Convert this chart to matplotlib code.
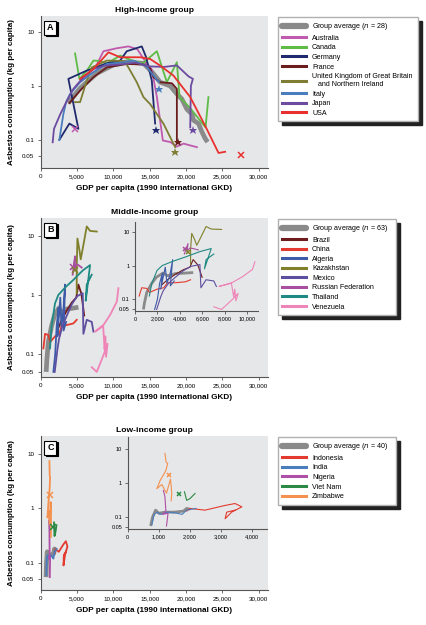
import matplotlib as mpl
import matplotlib.pyplot as plt
from matplotlib.lines import Line2D

mpl.use('Agg')

plt.rcParams['font.family'] = ['Liberation Sans', 'DejaVu Sans']

# ---------------- data (GDP per capita, kg per capita) ----------------
# High-income group
hi_avg_x = [3800, 5400, 7700, 10000, 11900, 14200, 15500, 16450, 17830, 18750, 19440, 20130, 20820, 21050, 21740, 22200, 22660, 22980]
hi_avg_y = [0.48, 0.9, 1.7, 2.45, 2.8, 2.6, 1.7, 1.17, 1.0, 0.71, 0.57, 0.37, 0.30, 0.23, 0.20, 0.14, 0.105, 0.091]
australia_x = [5500, 6500, 7600, 8640, 10500, 12080, 13300, 14300, 15300, 16000, 16820, 17830, 18750, 19660, 21510]
australia_y = [1.2, 1.6, 2.3, 4.4, 5.0, 5.4, 4.8, 3.0, 2.0, 0.62, 0.097, 0.091, 0.075, 0.085, 0.073]
canada_x = [4730, 5330, 6340, 7260, 8200, 9100, 10940, 12500, 14000, 16000, 17370, 18750, 19120, 20500, 22700, 23100]
canada_y = [4.0, 1.35, 1.9, 2.95, 2.9, 2.6, 3.65, 3.0, 2.6, 4.4, 1.17, 2.75, 0.62, 0.4, 0.17, 0.62]
germany_x = [2570, 3950, 5190, 3810, 6340, 9100, 10940, 11850, 13920, 14520, 15300, 15760]
germany_y = [0.1, 0.2, 0.16, 1.35, 1.92, 2.63, 2.95, 4.4, 5.4, 3.4, 1.25, 0.2]
france_x = [3950, 5420, 7260, 9100, 11850, 14150, 15100, 15530, 16450, 18060, 18750, 18750]
france_y = [0.48, 0.82, 1.45, 2.2, 2.55, 2.5, 2.1, 1.45, 1.17, 1.12, 0.88, 0.097]
uk_x = [4730, 5420, 6340, 7030, 9100, 11500, 12080, 13230, 14150, 15070, 16900, 18520]
uk_y = [0.5, 0.5, 1.25, 2.2, 2.95, 2.9, 2.2, 1.17, 0.62, 0.46, 0.2, 0.073]
italy_x = [2570, 3120, 3500, 4040, 5420, 7260, 9100, 11000, 12770, 14600, 16000, 16300]
italy_y = [0.1, 0.3, 0.5, 0.71, 1.17, 1.8, 2.55, 2.7, 2.95, 2.28, 1.29, 1.2]
japan_x = [1650, 1830, 2700, 3580, 4500, 5880, 7260, 9000, 11000, 13000, 15000, 17000, 18750, 20360, 20960, 20680, 20590]
japan_y = [0.09, 0.16, 0.3, 0.52, 0.88, 1.45, 2.06, 2.4, 2.5, 2.7, 2.3, 2.25, 2.4, 1.5, 1.35, 1.0, 0.17]
usa_x = [5420, 7260, 9330, 10940, 13690, 15070, 16450, 18290, 20590, 22660, 24490, 25400]
usa_y = [1.35, 2.06, 4.2, 3.4, 3.4, 3.16, 2.38, 1.55, 0.62, 0.18, 0.057, 0.06]

# Middle-income group
mid_avg_x = [750, 850, 1050, 1500, 1900, 2500, 2900, 3600, 4500, 5190]
mid_avg_y = [0.05, 0.08, 0.16, 0.3, 0.45, 0.6, 0.5, 0.58, 0.6, 0.62]
brazil_x = [2400, 2900, 3600, 4300, 4900, 5190, 5600, 5990]
brazil_y = [0.27, 0.38, 0.55, 0.75, 0.9, 1.5, 1.05, 0.45]
china_x = [370, 600, 1060, 1290, 1980, 2570, 2900, 3590, 4500, 4960]
china_y = [0.125, 0.22, 0.21, 0.16, 0.2, 0.22, 0.31, 0.31, 0.33, 0.38]
algeria_x = [1750, 2000, 2200, 2450, 2300, 2700, 2850, 3100, 3360, 3150, 3500]
algeria_y = [0.05, 0.1, 0.3, 0.6, 0.2, 0.9, 0.3, 0.5, 1.5, 0.25, 0.35]
kazakhstan_x = [4960, 4960, 5060, 5330, 5510, 5880, 6340, 6800, 7720]
kazakhstan_y = [1.07, 3.0, 9.0, 5.8, 4.0, 7.0, 14.4, 12.1, 11.8]
mexico_x = [1930, 2300, 2520, 3000, 3600, 4300, 5000, 5790, 5880, 6340, 7030, 7260]
mexico_y = [0.05, 0.12, 0.18, 0.3, 0.45, 0.7, 0.95, 1.07, 0.22, 0.38, 0.35, 0.24]
russia_x = [4400, 4730, 4650, 4900, 5190, 5650]
russia_y = [2.2, 4.5, 2.8, 3.3, 3.2, 2.9]
thailand_x = [1280, 1500, 1970, 2430, 3350, 4500, 5800, 6800, 6200, 6340, 7030]
thailand_y = [0.125, 0.3, 0.72, 1.0, 1.33, 1.8, 2.6, 3.2, 0.8, 1.5, 2.2]
venezuela_x = [7030, 7720, 8200, 8700, 9200, 9000, 8900, 8800, 8600, 7490, 8640, 9560, 10480, 10700]
venezuela_y = [0.06, 0.05, 0.07, 0.1, 0.15, 0.09, 0.2, 0.12, 0.3, 0.24, 0.31, 0.46, 0.77, 1.3]

# Low-income group
lo_avg_x = [740, 800, 900, 1000, 1200, 1500, 1800, 1900, 2000]
lo_avg_y = [0.055, 0.1, 0.16, 0.13, 0.14, 0.14, 0.15, 0.18, 0.17]
indonesia_x = [1900, 2000, 2490, 3140, 3460, 3680, 3350, 3140, 3190, 3460]
indonesia_y = [0.15, 0.18, 0.16, 0.22, 0.25, 0.2, 0.14, 0.09, 0.14, 0.16]
india_x = [780, 850, 950, 1050, 1300, 1600, 1750, 1900, 2200]
india_y = [0.06, 0.12, 0.14, 0.12, 0.14, 0.13, 0.12, 0.16, 0.18]
nigeria_x = [1150, 1200, 1230, 1120, 1300, 1250]
nigeria_y = [0.6, 0.4, 0.15, 0.12, 0.13, 0.055]
vietnam_x = [1830, 1900, 2010, 2170]
vietnam_y = [0.55, 0.31, 0.35, 0.49]
zimbabwe_x = [1200, 1240, 1290, 1230, 1150, 1050, 940, 1100, 1250, 1380, 1420, 1400]
zimbabwe_y = [7.3, 4.0, 3.7, 2.3, 1.7, 1.2, 0.68, 0.9, 0.5, 1.3, 0.5, 0.3]

# markers (star = ban, x = other)
hi_marks = [(15900, 0.15, '*', '#1f2a6e'), (16270, 0.87, '*', '#4a7dbe'), (18970, 0.093, '*', '#6b1c1c'),
            (18440, 0.06, '*', '#7e7d33'), (20960, 0.153, '*', '#6d4ba0'),
            (4730, 0.16, 'x', '#c05aae'), (27580, 0.053, 'x', '#e8312f')]
mid_marks = [(4500, 3.0, 'x', '#a84f9f'), (4750, 2.6, 'x', '#80802c')]
lo_marks = [(1340, 1.75, 'x', '#f4914f'), (1650, 0.46, 'x', '#2a8a45')]

GRAY = '#8a8a8a'
BG = '#e6e7e8'

hi_series = [('Australia', australia_x, australia_y, '#c05aae'),
             ('Canada', canada_x, canada_y, '#5dbb46'),
             ('Germany', germany_x, germany_y, '#1f2a6e'),
             ('France', france_x, france_y, '#6b1c1c'),
             ('United Kingdom of Great Britain\n   and Northern Ireland', uk_x, uk_y, '#7e7d33'),
             ('Italy', italy_x, italy_y, '#4a7dbe'),
             ('Japan', japan_x, japan_y, '#6d4ba0'),
             ('USA', usa_x, usa_y, '#e8312f')]
mid_series = [('Brazil', brazil_x, brazil_y, '#6e1b1e'),
              ('China', china_x, china_y, '#e33b2f'),
              ('Algeria', algeria_x, algeria_y, '#3d5ba8'),
              ('Kazakhstan', kazakhstan_x, kazakhstan_y, '#80802c'),
              ('Mexico', mexico_x, mexico_y, '#5e4ea0'),
              ('Russian Federation', russia_x, russia_y, '#a84f9f'),
              ('Thailand', thailand_x, thailand_y, '#1f8a84'),
              ('Venezuela', venezuela_x, venezuela_y, '#ef84b8')]
lo_series = [('Indonesia', indonesia_x, indonesia_y, '#e33b2f'),
             ('India', india_x, india_y, '#4a7dbe'),
             ('Nigeria', nigeria_x, nigeria_y, '#b04fa8'),
             ('Viet Nam', vietnam_x, vietnam_y, '#2a8a45'),
             ('Zimbabwe', zimbabwe_x, zimbabwe_y, '#f4914f')]

W, H = 427, 625
fig = plt.figure(figsize=(W / 100, H / 100), dpi=100)


def fx(px):
    return px / W


def fy(py):
    return 1 - py / H


def style_axes(ax, xticks, xlabels, fs):
    ax.set_facecolor(BG)
    ax.set_yscale('log')
    for s in ['top', 'right']:
        ax.spines[s].set_visible(False)
    for s in ['left', 'bottom']:
        ax.spines[s].set_color('#555555')
        ax.spines[s].set_linewidth(0.8)
    ax.set_xticks(xticks)
    ax.set_xticklabels(xlabels)
    ax.set_yticks([0.05, 0.1, 1, 10])
    ax.set_yticklabels(['0.05', '0.1', '1', '10'])
    ax.minorticks_off()
    ax.tick_params(labelsize=fs, length=2.5, width=0.6, color='#555555', pad=2)


def draw_lines(ax, avg_x, avg_y, series, marks, lw, avg_lw, ms):
    ax.plot(avg_x, avg_y, color=GRAY, lw=avg_lw, solid_capstyle='butt', zorder=2)
    for name, xs, ys, c in series:
        ax.plot(xs, ys, color=c, lw=lw, zorder=3)
    for x, y, m, c in marks:
        if m == '*':
            ax.plot(x, y, marker='*', color=c, ms=ms * 1.4, mew=0, zorder=4)
        else:
            ax.plot(x, y, marker='x', color=c, ms=ms, mew=1.1, zorder=4)


def panel(top, bottom, ylim, title, letter, avg_x, avg_y, series, marks, n, leg_top, leg_w, inset=None):
    ax = fig.add_axes([fx(40.7), fy(bottom), fx(268 - 40.7), (bottom - top) / H])
    draw_lines(ax, avg_x, avg_y, series, marks, 1.3, 3.4, 4.5)
    ax.set_xlim(0, 31300)
    ax.set_ylim(*ylim)
    style_axes(ax, [0, 5000, 10000, 15000, 20000, 25000, 30000],
               ['0', '5,000', '10,000', '15,000', '20,000', '25,000', '30,000'], 4.5)
    ax.set_xlabel('GDP per capita (1990 international GKD)', fontsize=5.9, fontweight='bold', labelpad=4)
    ax.set_ylabel('Asbestos consumption (kg per capita)', fontsize=5.8, fontweight='bold')
    ax.yaxis.set_label_coords(-0.113, 0.5)
    ax.set_title(title, fontsize=6.1, fontweight='bold', pad=3)
    # panel letter box with shadow
    ax.annotate(letter, xy=(0, 1), xycoords='axes fraction', xytext=(8.0, -9.5), textcoords='offset points',
                fontsize=6.5, fontweight='bold', ha='center', va='center', color='black',
                bbox=dict(boxstyle='square,pad=0.3', fc='black', ec='black', lw=0.8), zorder=5)
    ax.annotate(letter, xy=(0, 1), xycoords='axes fraction', xytext=(7.0, -8.5), textcoords='offset points',
                fontsize=6.5, fontweight='bold', ha='center', va='center', color='black',
                bbox=dict(boxstyle='square,pad=0.3', fc='white', ec='black', lw=0.8), zorder=6)

    if inset is not None:
        l, r, t, b, xmax, ylim_in, xt = inset
        axi = fig.add_axes([fx(l), fy(b), fx(r - l), (b - t) / H])
        draw_lines(axi, avg_x, avg_y, series, marks, 0.8, 2.0, 3.0)
        axi.set_xlim(0, xmax)
        axi.set_ylim(*ylim_in)
        style_axes(axi, xt, ['{:,}'.format(v) for v in xt], 4.0)
        axi.tick_params(length=2)

    handles = [Line2D([], [], color=GRAY, lw=4.5, solid_capstyle='round')]
    labels = ['Group average ($n$ = %d)' % n]
    for name, xs, ys, c in series:
        handles.append(Line2D([], [], color=c, lw=2.2))
        labels.append(name)
    fig.legend(handles, labels, loc='upper left', bbox_to_anchor=(fx(277.7), fy(leg_top), fx(leg_w), 0),
               mode='expand', borderaxespad=0, fontsize=5.1, labelspacing=0.36, handlelength=3.4,
               handletextpad=0.8, borderpad=0.65, fancybox=False, framealpha=1,
               edgecolor='#b0b0b0', facecolor='white',
               shadow={'ox': 3, 'oy': -3, 'color': '#222222', 'alpha': 1})
    return ax


panel(16, 168, (0.030, 19.8), 'High-income group', 'A', hi_avg_x, hi_avg_y, hi_series, hi_marks, 28, 16.7, 140)
panel(218, 377, (0.041, 20), 'Middle-income group', 'B', mid_avg_x, mid_avg_y, mid_series, mid_marks, 63, 218.5, 118,
      inset=(135, 258.3, 221.7, 311, 11000, (0.045, 20), [0, 2000, 4000, 6000, 8000, 10000]))
panel(436, 590, (0.032, 21), 'Low-income group', 'C', lo_avg_x, lo_avg_y, lo_series, lo_marks, 40, 436.7, 118,
      inset=(127.7, 266.7, 437, 529, 4480, (0.045, 22), [0, 1000, 2000, 3000, 4000]))

plt.savefig('out.png', dpi=100)
